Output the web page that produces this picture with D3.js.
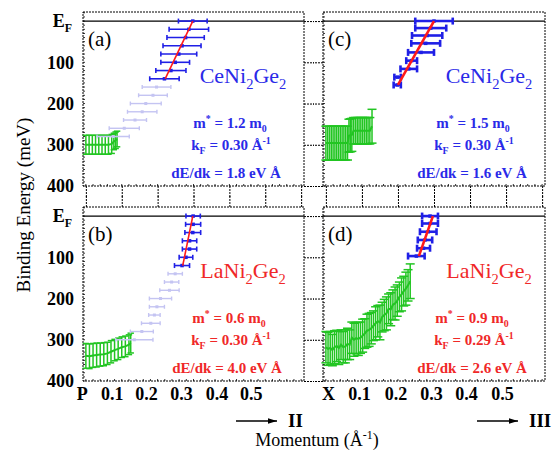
<!DOCTYPE html>
<html>
<head>
<meta charset="utf-8">
<script src="https://cdn.jsdelivr.net/npm/d3@7"></script>
<style>
body { margin: 0; background: #fff; }
</style>
</head>
<body>
<svg id="chart" width="555" height="455"></svg>
<script>
// ---------- values ----------
const eTicks = [0, 100, 200, 300, 400];
const kTicks = [0, 0.1, 0.2, 0.3, 0.4, 0.5, 0.6];
const kLabelsII = ['P', '0.1', '0.2', '0.3', '0.4', '0.5'];
const kLabelsIII = ['X', '0.1', '0.2', '0.3', '0.4', '0.5'];

// (a) CeNi2Ge2, P -> II
const aBlueE = [0, 20, 40, 60, 80, 100, 120, 140];
const aBlueK = [0.298, 0.287, 0.278, 0.268, 0.259, 0.249, 0.237, 0.219];
const aBlueDk = [0.040, 0.055, 0.052, 0.053, 0.050, 0.040, 0.042, 0.041];
const aLightE = [160, 180, 200, 220, 240, 260, 280];
const aLightK = [0.197, 0.187, 0.167, 0.157, 0.137, 0.107, 0.076];
const aLightDk = [0.040, 0.040, 0.043, 0.041, 0.032, 0.042, 0.045];
const aGreenK = [0, 0.009, 0.018, 0.027, 0.036, 0.045, 0.054, 0.063, 0.072, 0.078, 0.083, 0.087];
const aGreenE = [300, 300, 300, 300, 300, 300, 300, 300, 298, 292, 289, 286];
const aGreenDe = [23, 23, 23, 23, 23, 23, 23, 23, 23, 20, 20, 19];
const aFitK = [0.298, 0.221];
const aFitE = [0, 140];

// (b) LaNi2Ge2, P -> II
const bBlueE = [0, 20, 40, 60, 80, 100, 120];
const bBlueK = [0.299, 0.299, 0.298, 0.289, 0.289, 0.279, 0.268];
const bBlueDk = [0.020, 0.021, 0.022, 0.020, 0.020, 0.019, 0.021];
const bLightE = [140, 160, 180, 200, 220, 240, 260, 280, 300];
const bLightK = [0.249, 0.239, 0.233, 0.208, 0.198, 0.191, 0.181, 0.156, 0.135];
const bLightDk = [0.020, 0.020, 0.027, 0.031, 0.021, 0.016, 0.026, 0.032, 0.052];
const bGreenK = [0, 0.01, 0.02, 0.03, 0.04, 0.05, 0.06, 0.07, 0.08, 0.09, 0.10, 0.11, 0.12, 0.125];
const bGreenE = [339, 340, 338, 337, 336, 335, 333, 329, 325, 322, 318, 316, 312, 308];
const bGreenDe = [30, 30, 29, 29, 28, 28, 27, 27, 26, 26, 25, 25, 24, 24];
const bFitK = [0.298, 0.270];
const bFitE = [0, 120];

// (c) CeNi2Ge2, X -> III
const cBlueE = [0, 17, 35, 54, 76, 96, 116, 136, 155];
const cBlueK = [0.300, 0.291, 0.281, 0.277, 0.264, 0.238, 0.230, 0.199, 0.198];
const cBlueDk = [0.052, 0.043, 0.042, 0.040, 0.036, 0.015, 0.023, 0.009, 0.010];
const cGreenK = [0, 0.005, 0.010, 0.015, 0.020, 0.025, 0.030, 0.035, 0.040, 0.045, 0.050, 0.055, 0.060,
  0.064, 0.068, 0.072, 0.077, 0.082, 0.087, 0.092, 0.097, 0.102, 0.107, 0.112, 0.117, 0.122, 0.128];
const cGreenE = [296, 296, 296, 296, 296, 296, 296, 296, 296, 296, 296, 296, 296,
  278, 277, 276, 266, 266, 266, 266, 266, 266, 266, 266, 266, 266, 255];
const cGreenDe = [41, 41, 41, 41, 41, 41, 41, 41, 41, 41, 41, 41, 41,
  40, 40, 40, 32, 32, 32, 32, 32, 32, 32, 32, 32, 32, 41];
const cFitK = [0.300, 0.200];
const cFitE = [0, 155];

// (d) LaNi2Ge2, X -> III
const dBlueE = [0, 18, 38, 58, 78, 97];
const dBlueK = [0.289, 0.289, 0.284, 0.275, 0.271, 0.251];
const dBlueDk = [0.022, 0.022, 0.023, 0.020, 0.018, 0.023];
const dGreenK = [0, 0.006, 0.012, 0.018, 0.024, 0.030, 0.036, 0.042, 0.048, 0.054, 0.060, 0.066,
  0.072, 0.078, 0.084, 0.090, 0.096, 0.102, 0.108, 0.114, 0.120, 0.126, 0.132, 0.138, 0.144,
  0.150, 0.156, 0.162, 0.168, 0.174, 0.180, 0.186, 0.192, 0.198, 0.204, 0.210, 0.216, 0.222, 0.228, 0.234];
const dGreenE = [318, 322, 320, 325, 318, 315, 320, 312, 318, 316, 310, 312,
  295, 300, 296, 298, 295, 290, 285, 278, 276, 272, 266, 260, 255,
  258, 245, 240, 236, 225, 226, 215, 212, 205, 196, 190, 182, 176, 168, 158];
const dGreenDe = [38, 40, 40, 38, 40, 38, 40, 36, 38, 40, 38, 36,
  38, 40, 38, 40, 38, 40, 36, 40, 40, 38, 36, 40, 38,
  42, 36, 38, 40, 36, 40, 36, 40, 38, 36, 40, 36, 40, 38, 42];
const dFitK = [0.297, 0.258];
const dFitE = [0, 97];

// ---------- helpers ----------
const SERIF = '"Liberation Serif", Tinos, "Times New Roman", Times, "DejaVu Serif", serif';
const zip3 = (k, e, d) => k.map((v, i) => ({k: v, e: e[i], d: d[i]}));
const BLUE = '#1f1fe6', LIGHT = '#c4c4f2', GREEN = '#22c522', RED = '#ff1a1a';
const TXT_BLUE = '#2a2ae8', TXT_RED = '#f02828';

const panels = [
  {tag: '(a)', x0: 83, x1: 304, y0: 12, y1: 186, left: true, top: true,
    blue: zip3(aBlueK, aBlueE, aBlueDk), light: zip3(aLightK, aLightE, aLightDk),
    green: zip3(aGreenK, aGreenE, aGreenDe), fit: [aFitK, aFitE], thick: false,
    comp: 'Ce', color: TXT_BLUE, mass: '1.2', kf: '0.30', slope: '1.8',
    tx: [243, 230, 231, 226]},
  {tag: '(b)', x0: 83, x1: 304, y0: 207, y1: 381, left: true, top: false,
    blue: zip3(bBlueK, bBlueE, bBlueDk), light: zip3(bLightK, bLightE, bLightDk),
    green: zip3(bGreenK, bGreenE, bGreenDe), fit: [bFitK, bFitE], thick: false,
    comp: 'La', color: TXT_RED, mass: '0.6', kf: '0.30', slope: '4.0',
    tx: [243, 229, 231, 227], labels: kLabelsII, labelDx: [-4, -10, -11.5, -12.5, -13, -14.5]},
  {tag: '(c)', x0: 323, x1: 545, y0: 12, y1: 186, left: false, top: true,
    blue: zip3(cBlueK, cBlueE, cBlueDk), light: [],
    green: zip3(cGreenK, cGreenE, cGreenDe), fit: [cFitK, cFitE], thick: true,
    comp: 'Ce', color: TXT_BLUE, mass: '1.5', kf: '0.30', slope: '1.6',
    tx: [489, 473, 474, 472]},
  {tag: '(d)', x0: 323, x1: 545, y0: 207, y1: 381, left: false, top: false,
    blue: zip3(dBlueK, dBlueE, dBlueDk), light: [],
    green: zip3(dGreenK, dGreenE, dGreenDe), fit: [dFitK, dFitE], thick: true,
    comp: 'La', color: TXT_RED, mass: '0.9', kf: '0.29', slope: '2.6',
    tx: [489, 472, 474, 472], labels: kLabelsIII, labelDx: [2, -3, -2.5, -3, -4, -4]}
];

// writes text made of normal / sub / sup pieces
function rich(sel, parts, size) {
  let shift = 0;
  parts.forEach(([str, kind]) => {
    const target = kind === 'sub' ? size * 0.28 : kind === 'sup' ? -size * 0.38 : 0;
    sel.append('tspan')
      .attr('dy', target - shift)
      .attr('font-size', kind === 'n' ? size : size * 0.66)
      .text(str);
    shift = target;
  });
}

const svg = d3.select('#chart').attr('font-family', SERIF);

panels.forEach(p => {
  const x = d3.scaleLinear().domain([-0.008, 0.608]).range([p.x0, p.x1]);
  const y = d3.scaleLinear().domain([-22, 400]).range([p.y0, p.y1]);
  const g = svg.append('g');

  // dotted ticks running out into the gaps between panels
  const sideAxis = p.left ? d3.axisRight(y) : d3.axisLeft(y);
  g.append('g')
    .attr('transform', `translate(${p.left ? p.x1 : p.x0},0)`)
    .call(sideAxis.tickValues(eTicks).tickSize(10).tickFormat(''))
    .call(a => a.select('.domain').remove())
    .call(a => a.selectAll('line').attr('stroke-dasharray', '2,1'));
  const kAxis = p.top ? d3.axisBottom(x) : d3.axisTop(x);
  g.append('g')
    .attr('transform', `translate(0,${p.top ? p.y1 : p.y0})`)
    .call(kAxis.tickValues(kTicks).tickSize(11).tickFormat(''))
    .call(a => a.select('.domain').remove())
    .call(a => a.selectAll('line').attr('stroke-dasharray', '2,1'));

  // small inner ticks along the frame
  const minorE = d3.range(-20, 401, 10);
  const minorK = d3.range(0, 0.601, 0.02);
  g.append('g').selectAll('line.my').data(minorE).join('line')
    .attr('x1', p.x0).attr('x2', p.x0 + 2).attr('y1', d => y(d)).attr('y2', d => y(d))
    .attr('stroke', '#000').attr('stroke-width', 0.8);
  g.append('g').selectAll('line.mk').data(minorK).join('line')
    .attr('x1', d => x(d)).attr('x2', d => x(d)).attr('y1', p.y1).attr('y2', p.y1 - 2)
    .attr('stroke', '#000').attr('stroke-width', 0.8);

  // frame
  g.append('rect')
    .attr('x', p.x0).attr('y', p.y0)
    .attr('width', p.x1 - p.x0).attr('height', p.y1 - p.y0)
    .attr('fill', 'none').attr('stroke', '#000').attr('stroke-width', 1)
    .attr('stroke-dasharray', '2,1');

  // Fermi level
  g.append('line')
    .attr('x1', p.x0).attr('x2', p.x1).attr('y1', y(0)).attr('y2', y(0))
    .attr('stroke', '#000').attr('stroke-width', 1.2);

  // left axis labels
  if (p.left) {
    const yl = g.append('g')
      .attr('transform', `translate(${p.x0},0)`)
      .call(d3.axisLeft(y).tickValues(eTicks).tickSize(0).tickPadding(9)
        .tickFormat(d => d === 0 ? '' : d));
    yl.attr('font-family', SERIF);
    yl.select('.domain').remove();
    yl.selectAll('text')
      .attr('font-size', 18).attr('font-weight', 'bold').attr('fill', '#000');
    const ef = yl.append('text')
      .attr('x', -11).attr('y', y(0) + 6)
      .attr('text-anchor', 'end').attr('font-weight', 'bold').attr('fill', '#000');
    rich(ef, [['E', 'n'], ['F', 'sub']], 18);
  }

  // bottom axis labels
  if (p.labels) {
    const xl = g.append('g')
      .attr('transform', `translate(0,${p.y1})`)
      .call(d3.axisBottom(x).tickValues(kTicks.slice(0, 6)).tickSize(0).tickPadding(6)
        .tickFormat((d, i) => p.labels[i]));
    xl.attr('font-family', SERIF);
    xl.select('.domain').remove();
    xl.selectAll('text')
      .attr('dx', (d, i) => p.labelDx[i])
      .attr('font-size', 18).attr('font-weight', 'bold').attr('fill', '#000');
  }

  // green points (vertical error bars)
  const gw = p.thick ? 4.5 : 3.2;
  const gg = g.append('g').attr('stroke', GREEN).attr('stroke-width', 1.5);
  gg.selectAll('line.v').data(p.green).join('line')
    .attr('x1', d => x(d.k)).attr('x2', d => x(d.k))
    .attr('y1', d => y(d.e - d.d)).attr('y2', d => y(d.e + d.d));
  gg.selectAll('line.t').data(p.green).join('line')
    .attr('x1', d => x(d.k) - gw).attr('x2', d => x(d.k) + gw)
    .attr('y1', d => y(d.e - d.d)).attr('y2', d => y(d.e - d.d));
  gg.selectAll('line.b').data(p.green).join('line')
    .attr('x1', d => x(d.k) - gw).attr('x2', d => x(d.k) + gw)
    .attr('y1', d => y(d.e + d.d)).attr('y2', d => y(d.e + d.d));
  g.append('path').datum(p.green)
    .attr('d', d3.line().x(d => x(d.k)).y(d => y(d.e)))
    .attr('fill', 'none').attr('stroke', GREEN).attr('stroke-width', 2);

  // horizontal error bars (light and dark blue)
  function hbars(data, color, sw, cap, dot) {
    const hb = g.append('g');
    hb.selectAll('line.h').data(data).join('line')
      .attr('x1', d => x(d.k - d.d)).attr('x2', d => x(d.k + d.d))
      .attr('y1', d => y(d.e)).attr('y2', d => y(d.e))
      .attr('stroke', color).attr('stroke-width', sw);
    hb.selectAll('line.l').data(data).join('line')
      .attr('x1', d => x(d.k - d.d)).attr('x2', d => x(d.k - d.d))
      .attr('y1', d => y(d.e) - cap).attr('y2', d => y(d.e) + cap)
      .attr('stroke', color).attr('stroke-width', sw);
    hb.selectAll('line.r').data(data).join('line')
      .attr('x1', d => x(d.k + d.d)).attr('x2', d => x(d.k + d.d))
      .attr('y1', d => y(d.e) - cap).attr('y2', d => y(d.e) + cap)
      .attr('stroke', color).attr('stroke-width', sw);
    hb.selectAll('rect').data(data).join('rect')
      .attr('x', d => x(d.k) - dot / 2).attr('y', d => y(d.e) - dot / 2)
      .attr('width', dot).attr('height', dot).attr('fill', color);
  }
  hbars(p.light, LIGHT, 1.4, 2, 3);
  if (p.thick) hbars(p.blue, BLUE, 2.6, 3.5, 3.5);
  else hbars(p.blue, BLUE, 1.6, 2.5, 3.5);

  // linear fit
  g.append('line')
    .attr('x1', x(p.fit[0][0])).attr('y1', y(p.fit[1][0]))
    .attr('x2', x(p.fit[0][1])).attr('y2', y(p.fit[1][1]))
    .attr('stroke', RED).attr('stroke-width', p.thick ? 2.6 : 1.6);

  // panel tag
  g.append('text')
    .attr('x', p.x0 + 5).attr('y', p.y0 + 34)
    .attr('font-size', 21).attr('fill', '#000').text(p.tag);

  // compound
  const ct = g.append('text')
    .attr('x', p.tx[0]).attr('y', p.y0 + 71)
    .attr('text-anchor', 'middle').attr('fill', p.color);
  rich(ct, [[p.comp + 'Ni', 'n'], ['2', 'sub'], ['Ge', 'n'], ['2', 'sub']], 22);

  // fit parameters
  const t1 = g.append('text').attr('x', p.tx[1]).attr('y', p.y0 + 116)
    .attr('text-anchor', 'middle').attr('font-weight', 'bold').attr('fill', p.color);
  rich(t1, [['m', 'n'], ['*', 'sup'], [' = ' + p.mass + ' m', 'n'], ['0', 'sub']], 15);
  const t2 = g.append('text').attr('x', p.tx[2]).attr('y', p.y0 + 138)
    .attr('text-anchor', 'middle').attr('font-weight', 'bold').attr('fill', p.color);
  rich(t2, [['k', 'n'], ['F', 'sub'], [' = ' + p.kf + ' Å', 'n'], ['-1', 'sup']], 15);
  g.append('text').attr('x', p.tx[3]).attr('y', p.y0 + 166)
    .attr('text-anchor', 'middle').attr('font-weight', 'bold').attr('fill', p.color)
    .attr('font-size', 15).text('dE/dk = ' + p.slope + ' eV Å');
});

// direction arrows
svg.append('defs').append('marker')
  .attr('id', 'head').attr('viewBox', '0 0 10 10').attr('refX', 10).attr('refY', 5)
  .attr('markerWidth', 7).attr('markerHeight', 7).attr('orient', 'auto')
  .append('path').attr('d', 'M0,2 L10,5 L0,8 Z').attr('fill', '#000');
[[236, 277, 288, 'II'], [477, 518, 529, 'III']].forEach(([a, b, t, s]) => {
  svg.append('line').attr('x1', a).attr('x2', b).attr('y1', 421).attr('y2', 421)
    .attr('stroke', '#000').attr('stroke-width', 1.3).attr('marker-end', 'url(#head)');
  svg.append('text').attr('x', t).attr('y', 427).attr('font-size', 19)
    .attr('font-weight', 'bold').attr('fill', '#000').text(s);
});

// axis titles
const xt = svg.append('text').attr('x', 317).attr('y', 446)
  .attr('text-anchor', 'middle').attr('fill', '#000');
rich(xt, [['Momentum (Å', 'n'], ['-1', 'sup'], [')', 'n']], 18);
svg.append('text')
  .attr('transform', 'translate(30,205) rotate(-90)')
  .attr('text-anchor', 'middle').attr('font-size', 19).attr('fill', '#000')
  .text('Binding Energy (meV)');
</script>
</body>
</html>
